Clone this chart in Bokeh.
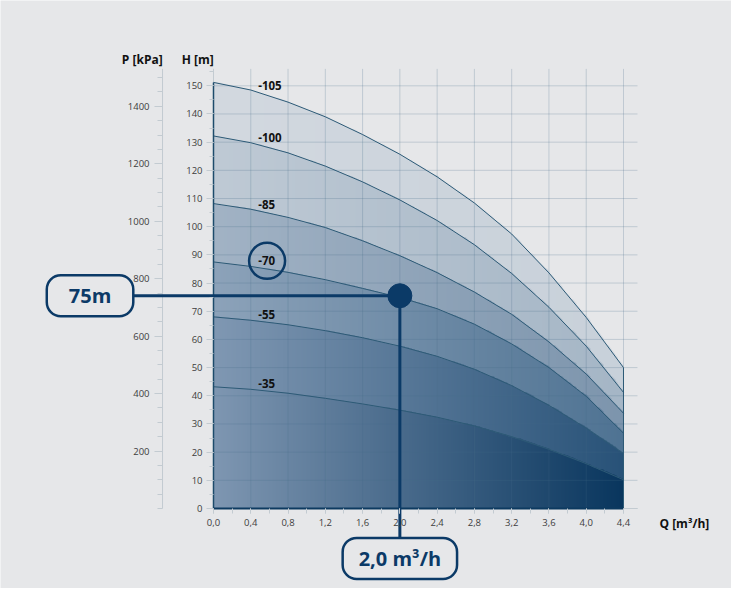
import numpy as np
from bokeh.plotting import figure
from bokeh.models import Range1d, LinearAxis, FixedTicker, Label
from bokeh.core.properties import value
from bokeh.embed import file_html
from bokeh.resources import INLINE

# ---------------- data ----------------
flow = [0.0, 0.4, 0.8, 1.2, 1.6, 2.0, 2.4, 2.8, 3.2, 3.6, 4.0, 4.4]
head_105 = [151.2, 148.5, 144.2, 139.0, 132.7, 125.7, 117.7, 108.4, 97.4, 83.6, 67.8, 50.0]
head_100 = [132.2, 129.8, 126.2, 121.5, 115.9, 109.5, 102.2, 93.6, 83.4, 71.4, 57.6, 41.2]
head_85 = [108.2, 106.2, 103.3, 99.7, 95.0, 89.7, 83.7, 76.8, 68.9, 59.1, 47.7, 33.8]
head_70 = [87.5, 85.9, 83.8, 81.2, 78.1, 74.9, 70.9, 65.4, 58.4, 50.0, 39.8, 26.7]
head_55 = [68.0, 66.8, 65.2, 63.1, 60.6, 57.6, 54.0, 49.4, 43.6, 36.6, 28.5, 19.5]
head_35 = [43.2, 42.3, 40.9, 39.1, 37.1, 34.9, 32.4, 29.3, 25.5, 21.0, 15.9, 10.2]
curve_labels = ["-35", "-55", "-70", "-85", "-100", "-105"]
highlight_label = "-70"

x_ticks = [0.0, 0.4, 0.8, 1.2, 1.6, 2.0, 2.4, 2.8, 3.2, 3.6, 4.0, 4.4]
x_tick_labels = ["0,0", "0,4", "0,8", "1,2", "1,6", "2,0", "2,4", "2,8", "3,2", "3,6", "4,0", "4,4"]
h_ticks = [0, 10, 20, 30, 40, 50, 60, 70, 80, 90, 100, 110, 120, 130, 140, 150]
p_ticks = [200, 400, 600, 800, 1000, 1200, 1400]
KPA_PER_M = 9.81

duty_flow = 2.0
duty_head = 75.5
duty_head_text = "75m"
duty_flow_text = "2,0 m\u00b3/h"

# ---------------- styles / layout ----------------
BG = "#e6e7e9"
NAVY = "#0b3a67"
CURVE = "#2d5a76"
TICK = "#c3cbd1"
GRID = "#466e8c"
LABEL_GRAY = "#3d3d3d"
FONT = "Open Sans"

W, H = 731, 588                 # canvas == frame
OX, OY = 213, 508               # canvas px of the origin (Q=0, H=0)
SX, SY = 93.18, 2.818           # px per m3/h, px per m
X_END, Y_END = 4.55, 156        # extent of the grid area
P_AXIS_Q = -0.547               # where the kPa axis stands
BOX_Q = -1.325                  # centre of the head call-out
BOX_H = -17.7                   # centre of the flow call-out

xr = Range1d(-OX / SX, (W - OX) / SX)
yr = Range1d(-(H - OY) / SY, OY / SY)

p = figure(width=W, height=H, x_range=xr, y_range=yr, min_border=0,
           output_backend="svg", toolbar_location=None,
           background_fill_color=BG, border_fill_color=BG, outline_line_color=None)
p.extra_y_ranges = {"kpa": Range1d(yr.start * KPA_PER_M, yr.end * KPA_PER_M)}
p.grid.visible = False

# ---------------- gradient bands (image) ----------------
curves = [head_35, head_55, head_70, head_85, head_100, head_105]
Q = np.array(flow)
C = np.array(curves)
left_cols = np.array([[127, 151, 178], [128, 152, 179], [141, 163, 186],
                      [162, 179, 197], [191, 202, 213], [211, 217, 224]], dtype=float)
right_cols = np.array([[9, 54, 94], [40, 82, 120], [79, 115, 147],
                       [125, 149, 173], [165, 182, 198], [200, 209, 218]], dtype=float)
img_w, img_h = Q[-1], 152.0
nx, ny = 440, 456
qc = (np.arange(nx) + 0.5) * img_w / nx
hc = (np.arange(ny) + 0.5) * img_h / ny
ch = np.array([np.interp(qc, Q, c) for c in C])              # (6, nx)
band = (hc[:, None, None] > ch[None, :, :]).sum(axis=1)       # (ny, nx)
cov = np.clip((ch[-1][None, :] - hc[:, None]) / (img_h / ny) + 0.5, 0, 1)
band = np.minimum(band, len(curves) - 1)
t = (qc / img_w)[None, :, None]
rgb = left_cols[band] * (1 - t) + right_cols[band] * t
rgba = np.zeros((ny, nx, 4), dtype=np.uint8)
rgba[..., :3] = np.clip(rgb, 0, 255).astype(np.uint8)
rgba[..., 3] = (cov * 255).astype(np.uint8)
img = np.ascontiguousarray(rgba).view(np.uint32).reshape(ny, nx)
p.image_rgba(image=[img], x=0, y=0, dw=img_w, dh=img_h, level="image")

# ---------------- grid (limited to the chart area) ----------------
p.segment(x0=x_ticks, y0=[0] * len(x_ticks), x1=x_ticks, y1=[Y_END] * len(x_ticks),
          line_color=GRID, line_alpha=0.24, line_width=1, level="underlay")
p.segment(x0=[0] * len(h_ticks), y0=h_ticks, x1=[X_END] * len(h_ticks), y1=h_ticks,
          line_color=GRID, line_alpha=0.24, line_width=1, level="underlay")
# axis lines (light)
p.segment(x0=[0, 0, P_AXIS_Q], y0=[0, 0, 0], x1=[X_END, 0, P_AXIS_Q], y1=[0, Y_END, Y_END],
          line_color=TICK, line_width=1, level="underlay")

# ---------------- curves & outline ----------------
for c in curves:
    p.line(flow, c, line_color=CURVE, line_width=1)
p.line([flow[0], flow[0]], [0, head_105[0]], line_color="#1d4b6b", line_width=1.5)
p.line([flow[-1], flow[-1]], [0, head_105[-1]], line_color=CURVE, line_width=1)
p.line([flow[0], flow[-1]], [0, 0], line_color="#0d3a60", line_width=2)

# curve labels
lab_x = 0.48
lab_y = [float(np.interp(lab_x, Q, c)) + 2.4 for c in C]
p.text(x=[lab_x] * len(curve_labels), y=lab_y, text=curve_labels,
       text_font=value(FONT), text_font_style="bold", text_font_size="11.5px",
       text_align="left", text_baseline="middle", text_color="#111111")
hi = curve_labels.index(highlight_label)
p.scatter([lab_x + 0.095], [lab_y[hi]], marker="circle", size=36,
          fill_color=None, line_color=NAVY, line_width=2.5)

# ---------------- duty point ----------------
p.line([BOX_Q, duty_flow], [duty_head, duty_head], line_color=NAVY, line_width=3)
p.line([duty_flow, duty_flow], [duty_head, BOX_H], line_color=NAVY, line_width=3)
p.scatter([duty_flow], [duty_head], marker="circle", size=24, fill_color=NAVY, line_color=NAVY)

p.add_layout(Label(x=BOX_Q, y=duty_head, text=duty_head_text, text_align="center",
                   text_baseline="middle", text_font=FONT, text_font_style="bold",
                   text_font_size="20px", text_color=NAVY, background_fill_color=BG,
                   border_line_color=NAVY, border_line_width=2.5, border_radius=14,
                   padding=dict(left=22, right=22, top=7, bottom=7)))
p.add_layout(Label(x=duty_flow, y=BOX_H, text=duty_flow_text, text_align="center",
                   text_baseline="middle", text_font=FONT, text_font_style="bold",
                   text_font_size="20px", text_color=NAVY, background_fill_color=BG,
                   border_line_color=NAVY, border_line_width=2.5, border_radius=14,
                   padding=dict(left=16, right=16, top=7, bottom=7)))

# ---------------- axes (fixed inside the frame) ----------------
xa = p.xaxis[0]
xa.fixed_location = 0
xa.ticker = FixedTicker(ticks=x_ticks, minor_ticks=[round(0.2 * i, 1) for i in range(23)])
xa.major_label_overrides = {tk: lb for tk, lb in zip(x_ticks, x_tick_labels)}
ya = p.yaxis[0]
ya.fixed_location = 0
ya.ticker = FixedTicker(ticks=h_ticks, minor_ticks=list(range(0, 156, 5)))

pa = LinearAxis(y_range_name="kpa", fixed_location=P_AXIS_Q,
                ticker=FixedTicker(ticks=p_ticks, minor_ticks=list(range(0, 1501, 50))))
p.add_layout(pa, "left")

for ax, tout, mout, stand in ((xa, 5, 5, 5), (ya, 7, 4, 4), (pa, 8, 5, 5)):
    ax.axis_line_color = None
    ax.major_tick_line_color = TICK
    ax.minor_tick_line_color = TICK
    ax.major_tick_in = 0
    ax.minor_tick_in = 0
    ax.major_tick_out = tout
    ax.minor_tick_out = mout
    ax.major_label_standoff = stand
    ax.major_label_text_font = FONT
    ax.major_label_text_font_size = "9.5px"
    ax.major_label_text_color = LABEL_GRAY

# axis titles
p.text(x=[-0.984, -0.340, 4.786], y=[159.4, 159.4, -5.3],
       text=["P [kPa]", "H [m]", "Q [m\u00b3/h]"],
       text_font=value(FONT), text_font_style="bold", text_font_size="12px",
       text_align="left", text_baseline="middle", text_color="#111111")

open("out.html", "w").write(file_html(p, INLINE))
